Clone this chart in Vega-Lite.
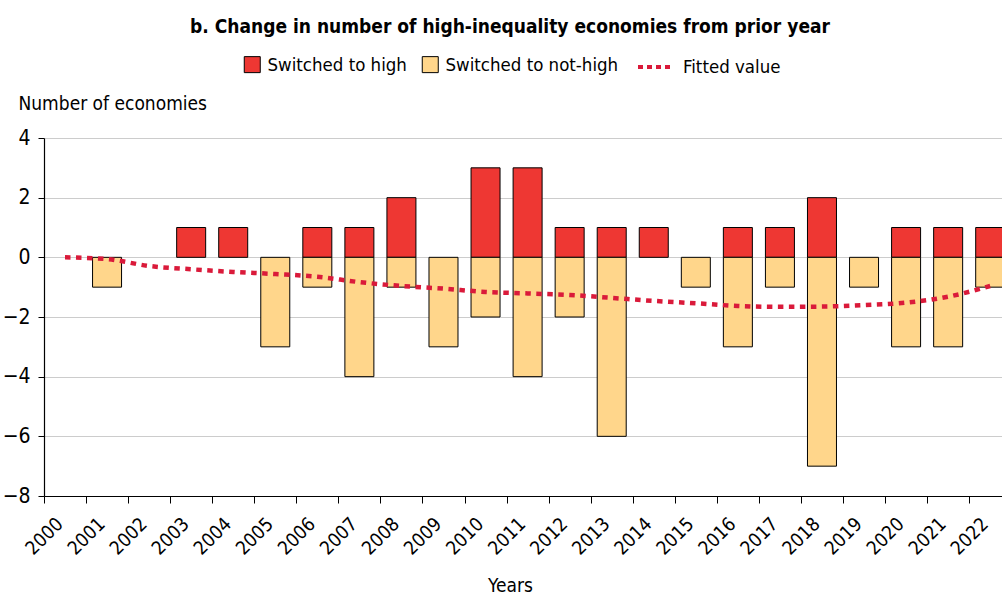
{
  "$schema": "https://vega.github.io/schema/vega-lite/v6.json",
  "width": 958,
  "height": 358,
  "autosize": {"type": "none"},
  "padding": {"left": 44, "top": 138, "right": 0, "bottom": 99},
  "background": "white",
  "config": {
    "font": "Liberation Sans Narrow, DejaVu Sans Condensed, sans-serif",
    "view": {"stroke": null}
  },
  "title": {
    "text": "b. Change in number of high-inequality economies from prior year",
    "fontSize": 19,
    "fontWeight": "bold",
    "color": "black",
    "anchor": "middle",
    "frame": "group",
    "dx": -13,
    "offset": 10
  },
  "datasets": {
    "bars": [
      {"year": 2001, "series": "Switched to not-high", "value": -1},
      {"year": 2003, "series": "Switched to high", "value": 1},
      {"year": 2004, "series": "Switched to high", "value": 1},
      {"year": 2005, "series": "Switched to not-high", "value": -3},
      {"year": 2006, "series": "Switched to high", "value": 1},
      {"year": 2006, "series": "Switched to not-high", "value": -1},
      {"year": 2007, "series": "Switched to high", "value": 1},
      {"year": 2007, "series": "Switched to not-high", "value": -4},
      {"year": 2008, "series": "Switched to high", "value": 2},
      {"year": 2008, "series": "Switched to not-high", "value": -1},
      {"year": 2009, "series": "Switched to not-high", "value": -3},
      {"year": 2010, "series": "Switched to high", "value": 3},
      {"year": 2010, "series": "Switched to not-high", "value": -2},
      {"year": 2011, "series": "Switched to high", "value": 3},
      {"year": 2011, "series": "Switched to not-high", "value": -4},
      {"year": 2012, "series": "Switched to high", "value": 1},
      {"year": 2012, "series": "Switched to not-high", "value": -2},
      {"year": 2013, "series": "Switched to high", "value": 1},
      {"year": 2013, "series": "Switched to not-high", "value": -6},
      {"year": 2014, "series": "Switched to high", "value": 1},
      {"year": 2015, "series": "Switched to not-high", "value": -1},
      {"year": 2016, "series": "Switched to high", "value": 1},
      {"year": 2016, "series": "Switched to not-high", "value": -3},
      {"year": 2017, "series": "Switched to high", "value": 1},
      {"year": 2017, "series": "Switched to not-high", "value": -1},
      {"year": 2018, "series": "Switched to high", "value": 2},
      {"year": 2018, "series": "Switched to not-high", "value": -7},
      {"year": 2019, "series": "Switched to not-high", "value": -1},
      {"year": 2020, "series": "Switched to high", "value": 1},
      {"year": 2020, "series": "Switched to not-high", "value": -3},
      {"year": 2021, "series": "Switched to high", "value": 1},
      {"year": 2021, "series": "Switched to not-high", "value": -3},
      {"year": 2022, "series": "Switched to high", "value": 1},
      {"year": 2022, "series": "Switched to not-high", "value": -1}
    ],
    "fitted": [
      {"year": 2000, "fitted": 0},
      {"year": 2001, "fitted": -0.06},
      {"year": 2002, "fitted": -0.29},
      {"year": 2003, "fitted": -0.4},
      {"year": 2004, "fitted": -0.49},
      {"year": 2005, "fitted": -0.56},
      {"year": 2006, "fitted": -0.65},
      {"year": 2007, "fitted": -0.83},
      {"year": 2008, "fitted": -0.96},
      {"year": 2009, "fitted": -1.05},
      {"year": 2010, "fitted": -1.16},
      {"year": 2011, "fitted": -1.21},
      {"year": 2012, "fitted": -1.26},
      {"year": 2013, "fitted": -1.36},
      {"year": 2014, "fitted": -1.46},
      {"year": 2015, "fitted": -1.54},
      {"year": 2016, "fitted": -1.63},
      {"year": 2017, "fitted": -1.66},
      {"year": 2018, "fitted": -1.65},
      {"year": 2019, "fitted": -1.6},
      {"year": 2020, "fitted": -1.52},
      {"year": 2021, "fitted": -1.32},
      {"year": 2022, "fitted": -0.96}
    ]
  },
  "encoding": {
    "x": {
      "field": "year",
      "type": "quantitative",
      "scale": {"domain": [2000, 2022.78], "nice": false, "zero": false, "padding": 0},
      "axis": {
        "values": [2000, 2001, 2002, 2003, 2004, 2005, 2006, 2007, 2008, 2009, 2010, 2011, 2012, 2013, 2014, 2015, 2016, 2017, 2018, 2019, 2020, 2021, 2022],
        "format": "d",
        "labelAngle": -45,
        "labelAlign": "center",
        "labelBaseline": "middle",
        "labelPadding": 33,
        "labelFontSize": 19,
        "labelColor": "black",
        "labelFlush": false,
        "labelOverlap": false,
        "tickColor": "black",
        "tickSize": 7,
        "domainColor": "black",
        "domainWidth": 1.2,
        "grid": false,
        "title": "Years",
        "titleFontSize": 19,
        "titleFontWeight": "normal",
        "titleColor": "black",
        "titleX": 466,
        "titleY": 89,
        "titleBaseline": "middle",
        "titleAlign": "center"
      }
    }
  },
  "layer": [
    {
      "data": {"name": "bars"},
      "mark": {"type": "bar", "width": 29, "xOffset": 21, "stroke": "black", "strokeWidth": 1},
      "encoding": {
        "y": {
          "field": "value",
          "type": "quantitative",
          "stack": "zero",
          "scale": {"domain": [-8, 4], "nice": false},
          "axis": {
            "values": [-8, -6, -4, -2, 0, 2, 4],
            "format": "d",
            "labelFontSize": 21,
            "labelColor": "black",
            "labelPadding": 8,
            "tickColor": "black",
            "tickSize": 6,
            "domainColor": "black",
            "domainWidth": 1.2,
            "grid": true,
            "gridColor": "#cccccc",
            "gridWidth": 1.2,
            "title": "Number of economies",
            "titleFontSize": 19,
            "titleFontWeight": "normal",
            "titleColor": "black",
            "titleAngle": 0,
            "titleAlign": "left",
            "titleBaseline": "middle",
            "titleX": -26,
            "titleY": -35
          }
        },
        "fill": {
          "field": "series",
          "type": "nominal",
          "scale": {"domain": ["Switched to high", "Switched to not-high"], "range": ["#EE3733", "#FFD68B"]},
          "legend": {
            "orient": "none",
            "legendX": 199,
            "legendY": -83,
            "direction": "horizontal",
            "title": null,
            "symbolType": "square",
            "symbolSize": 256,
            "symbolStrokeColor": "black",
            "symbolStrokeWidth": 1,
            "labelFontSize": 18.5,
            "labelLimit": 400,
            "labelColor": "black",
            "labelOffset": 6,
            "columnPadding": 13
          }
        }
      }
    },
    {
      "mark": {"type": "rule", "color": "black", "strokeDash": [6, 5], "strokeWidth": 1.2},
      "encoding": {"y": {"datum": 0}}
    },
    {
      "data": {"name": "fitted"},
      "mark": {"type": "line", "xOffset": 21, "strokeWidth": 4.5, "strokeDash": [5.5, 5.5], "interpolate": "monotone"},
      "encoding": {
        "y": {"field": "fitted", "type": "quantitative"},
        "stroke": {
          "datum": "Fitted value",
          "scale": {"domain": ["Fitted value"], "range": ["#DA1A3A"]},
          "legend": {
            "orient": "none",
            "legendX": 592,
            "legendY": -91,
            "title": null,
            "symbolType": "stroke",
            "symbolSize": 1296,
            "symbolStrokeWidth": 4,
            "symbolDash": [5, 4],
            "labelFontSize": 18.5,
            "labelLimit": 400,
            "labelColor": "black",
            "labelOffset": 7
          }
        }
      }
    }
  ]
}
